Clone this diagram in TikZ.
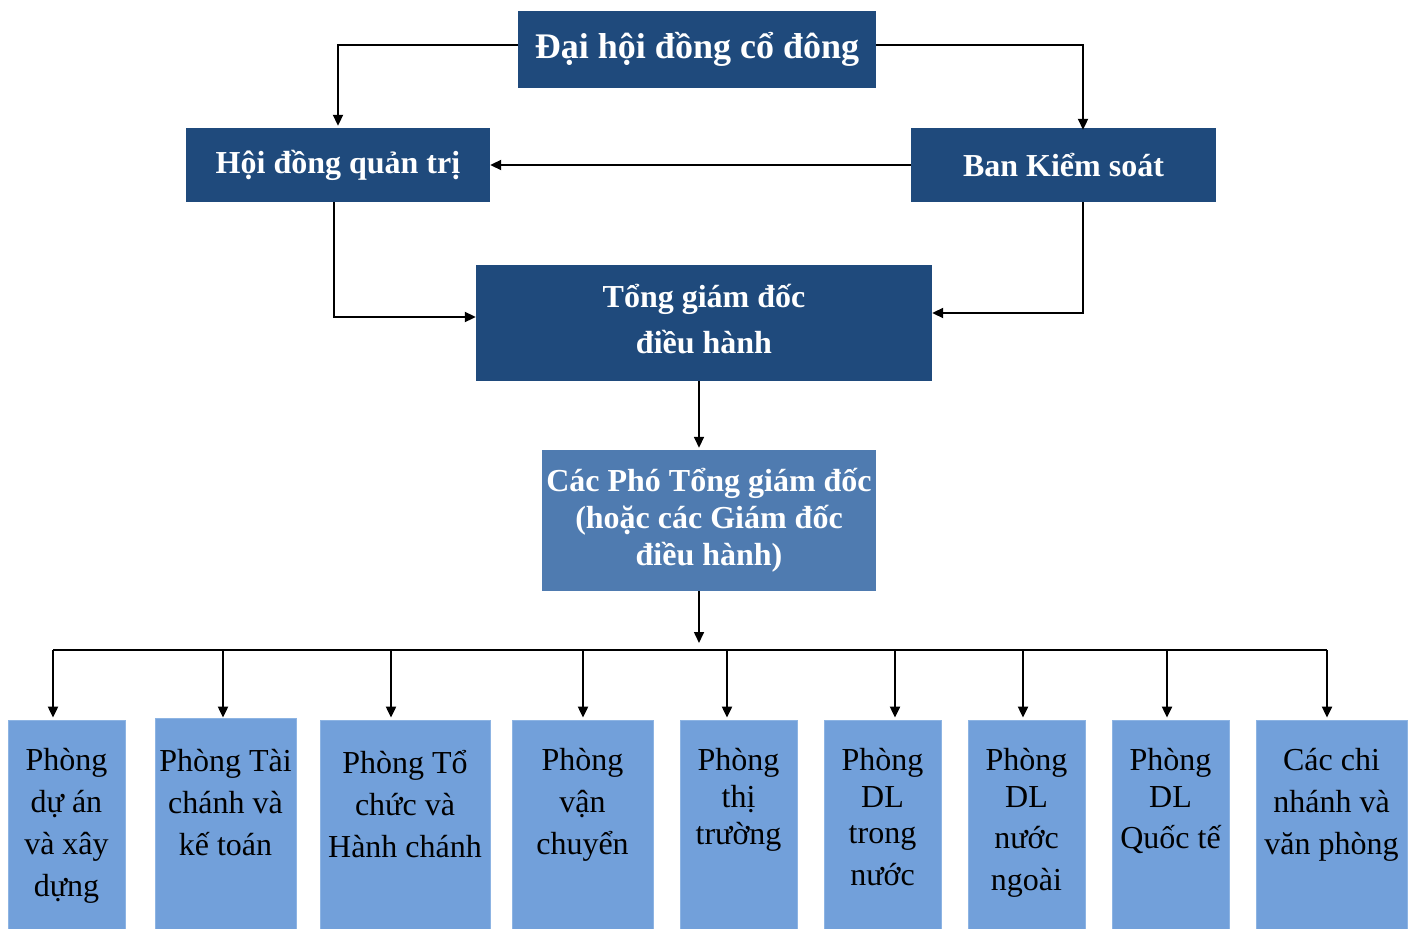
\documentclass[tikz,border=0pt]{standalone}
\usepackage{fontspec}
\setmainfont{Liberation Serif}
\usetikzlibrary{arrows.meta}
\definecolor{darkb}{HTML}{1F4A7C}
\definecolor{midb}{HTML}{4F7BB0}
\definecolor{lightb}{HTML}{72A0DA}
\definecolor{lightedge}{HTML}{8DB4E3}
\begin{document}
\begin{tikzpicture}[x=1pt,y=-1pt,
  darkbox/.style={fill=darkb, text=white, inner sep=0pt, align=center, font=\bfseries\fontsize{32}{46}\selectfont},
  midbox/.style={fill=midb, text=white, inner sep=0pt, align=center, font=\bfseries\fontsize{32}{37}\selectfont},
  dept/.style={fill=lightb, draw=lightedge, line width=0.8pt, inner sep=0pt, minimum height=215pt},
  depttext/.style={anchor=north, inner sep=0pt, align=center, font=\fontsize{32}{42}\selectfont},
  arr/.style={line width=2pt, -{Triangle[length=11pt,width=10pt]}},
  line/.style={line width=2pt}]
\useasboundingbox (0,0) rectangle (1412,928);
\fill[white] (0,0) rectangle (1412,928);

% top boxes
\node[darkbox, minimum width=358pt, minimum height=77pt, font=\bfseries\fontsize{36}{40}\selectfont] (dh) at (697,49.5) {Đại hội đồng cổ đông};
\node[darkbox, minimum width=304pt, minimum height=74pt] (hd) at (338,165) {Hội đồng quản trị};
\node[darkbox, minimum width=305pt, minimum height=74pt] (bks) at (1063.5,165) {Ban Kiểm soát};
\node[darkbox, minimum width=456pt, minimum height=116pt] (tgd) at (704,323) {};
\node[darkbox, anchor=center] (tgdt) at ([yshift=4pt]tgd.center) {Tổng giám đốc\\điều hành};
\node[midbox, minimum width=334pt, minimum height=141pt] (pho) at (709,520.5) {Các Phó Tổng giám đốc\\(hoặc các Giám đốc\\điều hành)};

% department boxes
\node[dept, minimum width=117pt] (b1) at (66.5,827.5) {};
\node[dept, minimum width=141pt] (b2) at (225.5,825.5) {};
\node[dept, minimum width=170pt] (b3) at (405,827.5) {};
\node[dept, minimum width=141pt] (b4) at (582.5,827.5) {};
\node[dept, minimum width=117pt] (b5) at (738.5,827.5) {};
\node[dept, minimum width=117pt] (b6) at (882.5,827.5) {};
\node[dept, minimum width=117pt] (b7) at (1026.5,827.5) {};
\node[dept, minimum width=117pt] (b8) at (1170.5,827.5) {};
\node[dept, minimum width=151pt] (b9) at (1331.5,827.5) {};

\node[depttext] (t1) at ([yshift=-28pt]b1.north) {Phòng\\dự án\\và xây\\dựng};
\node[depttext] (t2) at ([yshift=-31pt]b2.north) {Phòng Tài\\chánh và\\kế toán};
\node[depttext] (t3) at ([yshift=-31pt]b3.north) {Phòng Tổ\\chức và\\Hành chánh};
\node[depttext] (t4) at ([yshift=-28pt]b4.north) {Phòng\\vận\\chuyển};
\node[depttext] (t5) at ([yshift=-28pt]b5.north) {Phòng\\[-5pt]thị\\[-5pt]trường};
\node[depttext] (t6) at ([yshift=-28pt]b6.north) {Phòng\\[-5pt]DL\\[-6pt]trong\\nước};
\node[depttext] (t7) at ([yshift=-28pt]b7.north) {Phòng\\[-5pt]DL\\[-1pt]nước\\ngoài};
\node[depttext] (t8) at ([yshift=-28pt]b8.north) {Phòng\\[-5pt]DL\\[-1pt]Quốc tế};
\node[depttext] (t9) at ([yshift=-28pt]b9.north) {Các chi\\nhánh và\\văn phòng};

% connectors among top boxes
\coordinate (hdin) at ([yshift=2pt]hd.north);
\coordinate (bksin) at ([xshift=19.5pt,yshift=-2pt]bks.north);
\draw[arr] ([yshift=4.5pt]dh.west) -| (hdin);
\draw[arr] ([yshift=4.5pt]dh.east) -| (bksin);
\draw[arr] (bks.west) -- (hd.east);
\draw[arr] ([xshift=-4pt]hd.south) |- ([yshift=6pt]tgd.west);
\draw[arr] ([xshift=19.5pt]bks.south) |- ([yshift=10pt]tgd.east);
\coordinate (phoin) at ([xshift=-10pt,yshift=2pt]pho.north);
\draw[arr, line width=1.6pt] (tgd.south -| phoin) -- (phoin);

% bus
\coordinate (busL) at (53,650);
\coordinate (busR) at (1327,650);
\coordinate (busin) at (699,643);
\draw[arr, line width=1.6pt] ([xshift=-10pt]pho.south) -- (busin);
\draw[line] (busL) -- (busR);

\coordinate (d1) at ([xshift=-13.5pt,yshift=2pt]b1.north);
\coordinate (d2) at ([xshift=-2.5pt,yshift=0pt]b2.north);
\coordinate (d3) at ([xshift=-14pt,yshift=2pt]b3.north);
\coordinate (d4) at ([xshift=0.5pt,yshift=2pt]b4.north);
\coordinate (d5) at ([xshift=-11.5pt,yshift=2pt]b5.north);
\coordinate (d6) at ([xshift=12.5pt,yshift=2pt]b6.north);
\coordinate (d7) at ([xshift=-3.5pt,yshift=2pt]b7.north);
\coordinate (d8) at ([xshift=-3.5pt,yshift=2pt]b8.north);
\coordinate (d9) at ([xshift=-4.5pt,yshift=2pt]b9.north);
\foreach \d in {d1,d2,d3,d4,d5,d6,d7,d8,d9}
  \draw[arr] (busL -| \d) -- (\d);
\end{tikzpicture}
\end{document}
